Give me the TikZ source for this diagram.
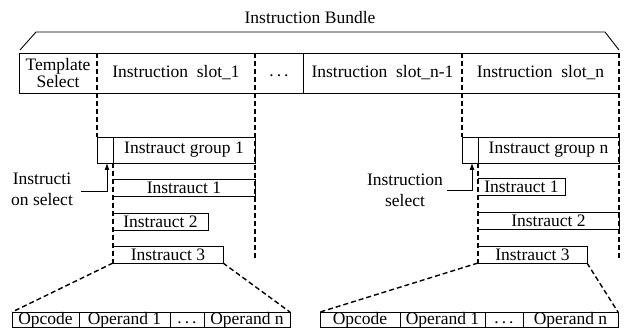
\documentclass[tikz,border=0pt]{standalone}
\usepackage{fontspec}
\setmainfont{Liberation Serif}
\usetikzlibrary{arrows.meta}
\newcommand{\mydots}{\vphantom{Ig}.\kern3pt.\kern3pt.}
\begin{document}
\begin{tikzpicture}[x=1pt,y=-1pt,
  every node/.style={font=\fontsize{17.5}{15}\selectfont, inner sep=0pt, outer sep=0pt},
  cell/.style 2 args={minimum width=#1pt, minimum height=#2pt},
  dbox/.style 2 args={draw, minimum width=#1pt, minimum height=#2pt},
  lab/.style={align=center, font=\fontsize{17.5}{21}\selectfont},
  solid line/.style={line width=0.9pt},
  dsh/.style={line width=1.4pt, dash pattern=on 5pt off 3pt}]
\useasboundingbox (0,0) rectangle (625,331);

% bundle label and bracket
\node (bt) at (310,18) {Instruction Bundle};
\coordinate (b1) at (20,50);
\coordinate (b2) at (36,32);
\coordinate (b3) at (605,32);
\coordinate (b4) at (619,50);
\draw[solid line] (b1) -- (b2) -- (b3) -- (b4);

% top table
\node[cell={78}{40}, align=center] (tsel) at (58,73) {Template\\Select};
\node[cell={158}{40}] (s1) at (176,73) {Instruction\ \ slot\_1};
\node[cell={48}{40}] (dots) at (279,73) {\mydots};
\node[cell={159}{40}] (sn1) at (382.5,73) {Instruction\ \ slot\_n-1};
\node[cell={157}{40}] (sn) at (540.5,73) {Instruction\ \ slot\_n};
\draw[solid line] (tsel.north west) -- (sn.north east);
\draw[solid line] (tsel.south west) -- (sn.south east);
\draw[solid line] (tsel.north west) -- (tsel.south west);
\draw[solid line] (dots.north east) -- (dots.south east);

% group 1
\node[dbox={16}{26}, solid line] (sel1) at (105,150) {};
\node[dbox={142}{26}, solid line] (g1) at (184,150) {Instrauct group 1};
\node[cell={142}{17}] (i11) at (184,187.5) {Instrauct 1};
\node[cell={95}{17}] (i12) at (160.5,221.5) {Instrauct 2};
\node[cell={110}{17}] (i13) at (168,254.5) {Instrauct 3};
\foreach \n in {i11,i12,i13}
  \draw[solid line] (\n.north west) -- (\n.north east) -- (\n.south east) -- (\n.south west);

% group n
\node[dbox={16}{26}, solid line] (seln) at (470,150) {};
\node[dbox={141}{26}, solid line] (gn) at (548.5,150) {Instrauct group n};
\node[cell={87}{17}] (in1) at (521.5,186.5) {Instrauct 1};
\node[cell={141}{17}] (in2) at (548.5,220.5) {Instrauct 2};
\node[cell={109}{17}] (in3) at (532.5,254.5) {Instrauct 3};
\foreach \n in {in1,in2,in3}
  \draw[solid line] (\n.north west) -- (\n.north east) -- (\n.south east) -- (\n.south west);

% dashed guides
\coordinate (e1) at (255,258);
\coordinate (e2) at (619,258);
\draw[dsh] (tsel.north east) -- (sel1.north west);
\draw[dsh] (s1.north east) -- (e1);
\draw[dsh] (sn1.north east) -- (seln.north west);
\draw[dsh] (sn.north east) -- (e2);
\draw[dsh] (sel1.south east) -- (i13.south west);
\draw[dsh] (seln.south east) -- (in3.south west);

% instruction select labels and arrows
\node[lab] (l1) at (42,189) {Instructi\\on select};
\coordinate (a1) at (81,191);
\draw[solid line, -{Latex[length=7pt,width=5pt]}] (a1) -| ([xshift=2pt]sel1.south);
\node[lab] (l2) at (405,190) {Instruction\\select};
\coordinate (a2) at (447,190);
\draw[solid line, -{Latex[length=7pt,width=5pt]}] (a2) -| ([xshift=2pt]seln.south);

% bottom tables
\node[dbox={67}{14}, solid line] (op1) at (45.5,320) {Opcode};
\node[dbox={91}{14}, solid line] (opa1) at (124.5,320) {Operand 1};
\node[dbox={34}{14}, solid line] (od1) at (187,320) {\mydots};
\node[dbox={86}{14}, solid line] (opn1) at (247,320) {Operand n};
\node[dbox={80}{14}, solid line] (op2) at (360,320) {Opcode};
\node[dbox={85}{14}, solid line] (opa2) at (442.5,320) {Operand 1};
\node[dbox={38}{14}, solid line] (od2) at (504,320) {\mydots};
\node[dbox={95}{14}, solid line] (opn2) at (570.5,320) {Operand n};

\draw[dsh] (i13.south west) -- (op1.north west);
\draw[dsh] (i13.south east) -- (opn1.north east);
\draw[dsh] (in3.south west) -- (op2.north west);
\draw[dsh] (in3.south east) -- (opn2.north east);
\end{tikzpicture}
\end{document}
